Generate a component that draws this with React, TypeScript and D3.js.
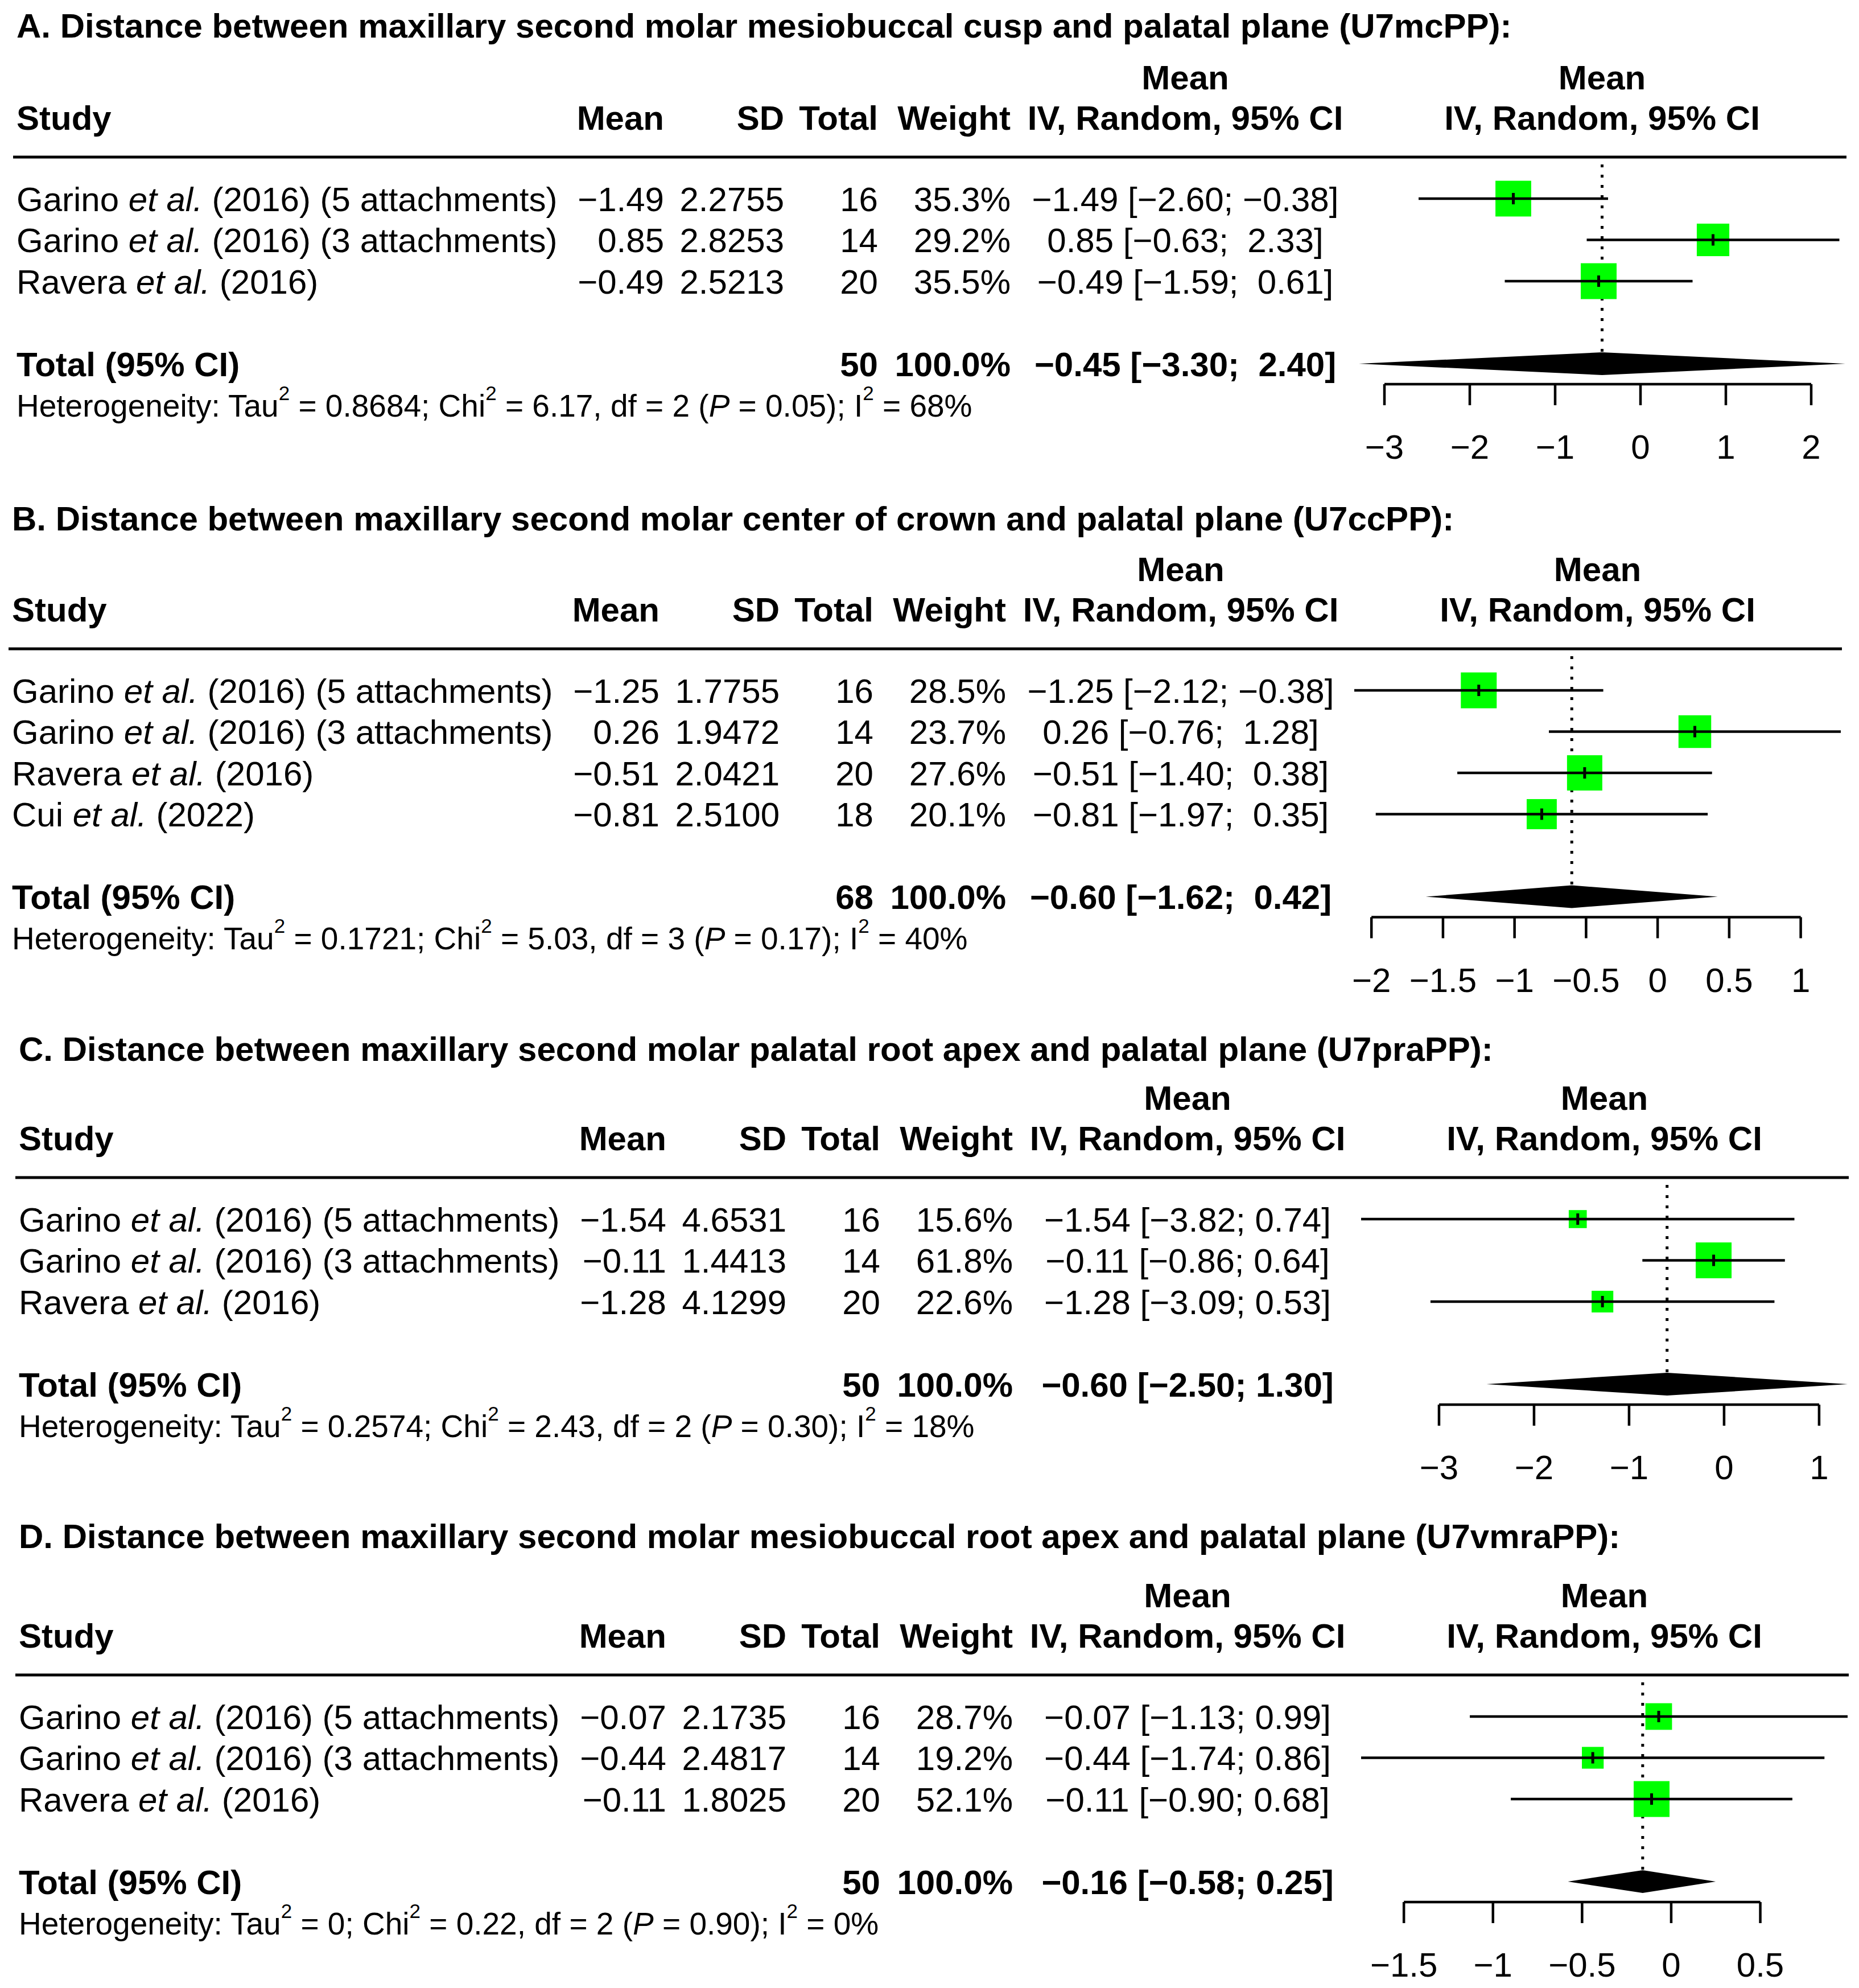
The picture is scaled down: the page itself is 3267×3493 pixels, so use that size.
import React from "react";
import * as d3 from "d3";

const W = 3267;
const H = 3493;
const FONT = "'Liberation Sans', Arial, Helvetica, sans-serif";
const FS = 60;
const FS_HET = 55;
const ROW = 72.5;

// ---------- Panel A ----------
const titleA = "A. Distance between maxillary second molar mesiobuccal cusp and palatal plane (U7mcPP):";
const authorsA = ["Garino", "Garino", "Ravera"];
const suffixA = ["(2016) (5 attachments)", "(2016) (3 attachments)", "(2016)"];
const meansA = [-1.49, 0.85, -0.49];
const sdsA = [2.2755, 2.8253, 2.5213];
const totalsA = [16, 14, 20];
const weightsA = [35.3, 29.2, 35.5];
const lowersA = [-2.6, -0.63, -1.59];
const uppersA = [-0.38, 2.33, 0.61];
const pooledA = [-0.45, -3.3, 2.4];
const hetA = ["0.8684", "6.17", "2", "0.05", "68%"];
const ticksA = [-3, -2, -1, 0, 1, 2];

// ---------- Panel B ----------
const titleB = "B. Distance between maxillary second molar center of crown and palatal plane (U7ccPP):";
const authorsB = ["Garino", "Garino", "Ravera", "Cui"];
const suffixB = ["(2016) (5 attachments)", "(2016) (3 attachments)", "(2016)", "(2022)"];
const meansB = [-1.25, 0.26, -0.51, -0.81];
const sdsB = [1.7755, 1.9472, 2.0421, 2.51];
const totalsB = [16, 14, 20, 18];
const weightsB = [28.5, 23.7, 27.6, 20.1];
const lowersB = [-2.12, -0.76, -1.4, -1.97];
const uppersB = [-0.38, 1.28, 0.38, 0.35];
const pooledB = [-0.6, -1.62, 0.42];
const hetB = ["0.1721", "5.03", "3", "0.17", "40%"];
const ticksB = [-2, -1.5, -1, -0.5, 0, 0.5, 1];

// ---------- Panel C ----------
const titleC = "C. Distance between maxillary second molar palatal root apex and palatal plane (U7praPP):";
const authorsC = ["Garino", "Garino", "Ravera"];
const suffixC = ["(2016) (5 attachments)", "(2016) (3 attachments)", "(2016)"];
const meansC = [-1.54, -0.11, -1.28];
const sdsC = [4.6531, 1.4413, 4.1299];
const totalsC = [16, 14, 20];
const weightsC = [15.6, 61.8, 22.6];
const lowersC = [-3.82, -0.86, -3.09];
const uppersC = [0.74, 0.64, 0.53];
const pooledC = [-0.6, -2.5, 1.3];
const hetC = ["0.2574", "2.43", "2", "0.30", "18%"];
const ticksC = [-3, -2, -1, 0, 1];

// ---------- Panel D ----------
const titleD = "D. Distance between maxillary second molar mesiobuccal root apex and palatal plane (U7vmraPP):";
const authorsD = ["Garino", "Garino", "Ravera"];
const suffixD = ["(2016) (5 attachments)", "(2016) (3 attachments)", "(2016)"];
const meansD = [-0.07, -0.44, -0.11];
const sdsD = [2.1735, 2.4817, 1.8025];
const totalsD = [16, 14, 20];
const weightsD = [28.7, 19.2, 52.1];
const lowersD = [-1.13, -1.74, -0.9];
const uppersD = [0.99, 0.86, 0.68];
const pooledD = [-0.16, -0.58, 0.25];
const hetD = ["0", "0.22", "2", "0.90", "0%"];
const ticksD = [-1.5, -1, -0.5, 0, 0.5];

// pooled weight of every meta-analysis
const pooledWeight = 100.0;

// layout (per panel)
const panelDx = [-4, -12, 0, 0];
const panelRow1 = [349, 1213, 2142, 3016];
const panelTitleY = [66, 932, 1864, 2720];

const panels = [
  { title: titleA, authors: authorsA, suffix: suffixA, means: meansA, sds: sdsA, totals: totalsA, weights: weightsA, lowers: lowersA, uppers: uppersA, pooled: pooledA, het: hetA, ticks: ticksA },
  { title: titleB, authors: authorsB, suffix: suffixB, means: meansB, sds: sdsB, totals: totalsB, weights: weightsB, lowers: lowersB, uppers: uppersB, pooled: pooledB, het: hetB, ticks: ticksB },
  { title: titleC, authors: authorsC, suffix: suffixC, means: meansC, sds: sdsC, totals: totalsC, weights: weightsC, lowers: lowersC, uppers: uppersC, pooled: pooledC, het: hetC, ticks: ticksC },
  { title: titleD, authors: authorsD, suffix: suffixD, means: meansD, sds: sdsD, totals: totalsD, weights: weightsD, lowers: lowersD, uppers: uppersD, pooled: pooledD, het: hetD, ticks: ticksD },
];

const MINUS = "\u2212";
const NBSP = "\u00A0";
const fmt = (v: number, d: number) => (v < 0 ? MINUS : "") + Math.abs(v).toFixed(d);
const fmtTick = (v: number) => (v < 0 ? MINUS : "") + String(Math.abs(v));

function ciText(est: number, lo: number, hi: number, padLo: boolean, padHi: boolean) {
  const l = (padLo && lo >= 0 ? NBSP : "") + fmt(lo, 2);
  const h = (padHi && hi >= 0 ? NBSP : "") + fmt(hi, 2);
  return `${fmt(est, 2)} [${l};${NBSP}${h}]`;
}

const BASE = 21.5; // baseline offset from line centre

function Panel({ p, idx }: { p: any; idx: number }) {
  const dx = panelDx[idx];
  const r1 = panelRow1[idx];
  const n = p.means.length;
  const xStudy = 33 + dx;
  const xMean = 1171 + dx;
  const xSD = 1382 + dx;
  const xTotal = 1547 + dx;
  const xWeight = 1780 + dx;
  const xCI = 2087 + dx;
  const plotL = 2392 + dx;
  const plotR = 3247 + dx;

  const allLo = [...p.lowers, p.pooled[1]];
  const allHi = [...p.uppers, p.pooled[2]];
  const x = d3.scaleLinear().domain([d3.min(allLo) as number, d3.max(allHi) as number]).range([plotL, plotR]);
  const wMax = d3.max(p.weights as number[]) as number;
  const sq = d3.scaleSqrt().domain([0, wMax]).range([0, 63]);

  const padLo = allLo.some((v: number) => v < 0) && allLo.some((v: number) => v >= 0);
  const padHi = allHi.some((v: number) => v < 0) && allHi.some((v: number) => v >= 0);

  const rowY = (i: number) => r1 + i * ROW;
  const totalY = r1 + (n + 1) * ROW;
  const hetY = totalY + ROW;
  const axisY = totalY + 36;
  const ruleY = r1 - 73;
  const head2 = r1 - 143;
  const head1 = r1 - 214;
  const plotC = (plotL + plotR) / 2;
  const sumN = d3.sum(p.totals as number[]);
  const sup = { dy: -29, fontSize: 35 };

  return (
    <g>
      <text x={xStudy} y={panelTitleY[idx]} fontWeight="bold">{p.title}</text>
      {/* header */}
      <text x={xCI} y={head1 + BASE} fontWeight="bold" textAnchor="middle">Mean</text>
      <text x={plotC} y={head1 + BASE} fontWeight="bold" textAnchor="middle">Mean</text>
      <text x={xStudy} y={head2 + BASE} fontWeight="bold">Study</text>
      <text x={xMean} y={head2 + BASE} fontWeight="bold" textAnchor="end">Mean</text>
      <text x={xSD} y={head2 + BASE} fontWeight="bold" textAnchor="end">SD</text>
      <text x={xTotal} y={head2 + BASE} fontWeight="bold" textAnchor="end">Total</text>
      <text x={xWeight} y={head2 + BASE} fontWeight="bold" textAnchor="end">Weight</text>
      <text x={xCI} y={head2 + BASE} fontWeight="bold" textAnchor="middle">IV, Random, 95% CI</text>
      <text x={plotC} y={head2 + BASE} fontWeight="bold" textAnchor="middle">IV, Random, 95% CI</text>
      <line x1={xStudy - 6} x2={plotR + 2} y1={ruleY} y2={ruleY} stroke="#000" strokeWidth={5} />

      {/* reference (pooled) dotted line */}
      <line x1={x(p.pooled[0])} x2={x(p.pooled[0])} y1={r1 - 60} y2={totalY - 20} stroke="#000" strokeWidth={5} strokeDasharray="5 13" />

      {/* study rows */}
      {p.means.map((m: number, i: number) => {
        const y = rowY(i);
        const s = sq(p.weights[i]);
        return (
          <g key={i}>
            <text x={xStudy} y={y + BASE}>
              <tspan>{p.authors[i] + " "}</tspan>
              <tspan fontStyle="italic">et al.</tspan>
              <tspan>{" " + p.suffix[i]}</tspan>
            </text>
            <text x={xMean} y={y + BASE} textAnchor="end">{fmt(m, 2)}</text>
            <text x={xSD} y={y + BASE} textAnchor="end">{p.sds[i].toFixed(4)}</text>
            <text x={xTotal} y={y + BASE} textAnchor="end">{p.totals[i]}</text>
            <text x={xWeight} y={y + BASE} textAnchor="end">{p.weights[i].toFixed(1) + "%"}</text>
            <text x={xCI} y={y + BASE} textAnchor="middle">{ciText(m, p.lowers[i], p.uppers[i], padLo, padHi)}</text>
            <rect x={x(m) - s / 2} y={y - s / 2} width={s} height={s} fill="#00ff00" />
            <line x1={x(p.lowers[i])} x2={x(p.uppers[i])} y1={y} y2={y} stroke="#000" strokeWidth={4.5} />
            <line x1={x(m)} x2={x(m)} y1={y - 10} y2={y + 10} stroke="#000" strokeWidth={5} />
          </g>
        );
      })}

      {/* total row */}
      <text x={xStudy} y={totalY + BASE} fontWeight="bold">Total (95% CI)</text>
      <text x={xTotal} y={totalY + BASE} fontWeight="bold" textAnchor="end">{sumN}</text>
      <text x={xWeight} y={totalY + BASE} fontWeight="bold" textAnchor="end">{pooledWeight.toFixed(1) + "%"}</text>
      <text x={xCI} y={totalY + BASE} fontWeight="bold" textAnchor="middle">{ciText(p.pooled[0], p.pooled[1], p.pooled[2], padLo, padHi)}</text>
      <polygon
        points={[
          [x(p.pooled[1]), totalY],
          [x(p.pooled[0]), totalY - 20],
          [x(p.pooled[2]), totalY],
          [x(p.pooled[0]), totalY + 20],
        ].map((q) => q.join(",")).join(" ")}
        fill="#000"
      />

      {/* heterogeneity */}
      <text x={xStudy} y={hetY + 20} fontSize={FS_HET}>
        <tspan>Heterogeneity: Tau</tspan>
        <tspan dy={sup.dy} fontSize={sup.fontSize}>2</tspan>
        <tspan dy={-sup.dy}>{" = " + p.het[0] + "; Chi"}</tspan>
        <tspan dy={sup.dy} fontSize={sup.fontSize}>2</tspan>
        <tspan dy={-sup.dy}>{" = " + p.het[1] + ", df = " + p.het[2] + " ("}</tspan>
        <tspan fontStyle="italic">P</tspan>
        <tspan>{" = " + p.het[3] + "); I"}</tspan>
        <tspan dy={sup.dy} fontSize={sup.fontSize}>2</tspan>
        <tspan dy={-sup.dy}>{" = " + p.het[4]}</tspan>
      </text>

      {/* axis */}
      <line x1={x(p.ticks[0])} x2={x(p.ticks[p.ticks.length - 1])} y1={axisY} y2={axisY} stroke="#000" strokeWidth={4.5} />
      {p.ticks.map((t: number) => (
        <g key={t}>
          <line x1={x(t)} x2={x(t)} y1={axisY} y2={axisY + 37} stroke="#000" strokeWidth={4.5} />
          <text x={x(t)} y={totalY + 167} textAnchor="middle">{fmtTick(t)}</text>
        </g>
      ))}
    </g>
  );
}

export default function App() {
  return (
    <>
      <style>{`body{margin:0;}`}</style>
      <svg
        width={W}
        height={H}
        viewBox={`0 0 ${W} ${H}`}
        fontFamily={FONT}
        fontSize={FS}
        style={{ display: "block" }}
      >
        <rect x={0} y={0} width={W} height={H} fill="#fff" />
        {panels.map((p, i) => (
          <Panel key={i} p={p} idx={i} />
        ))}
      </svg>
    </>
  );
}
